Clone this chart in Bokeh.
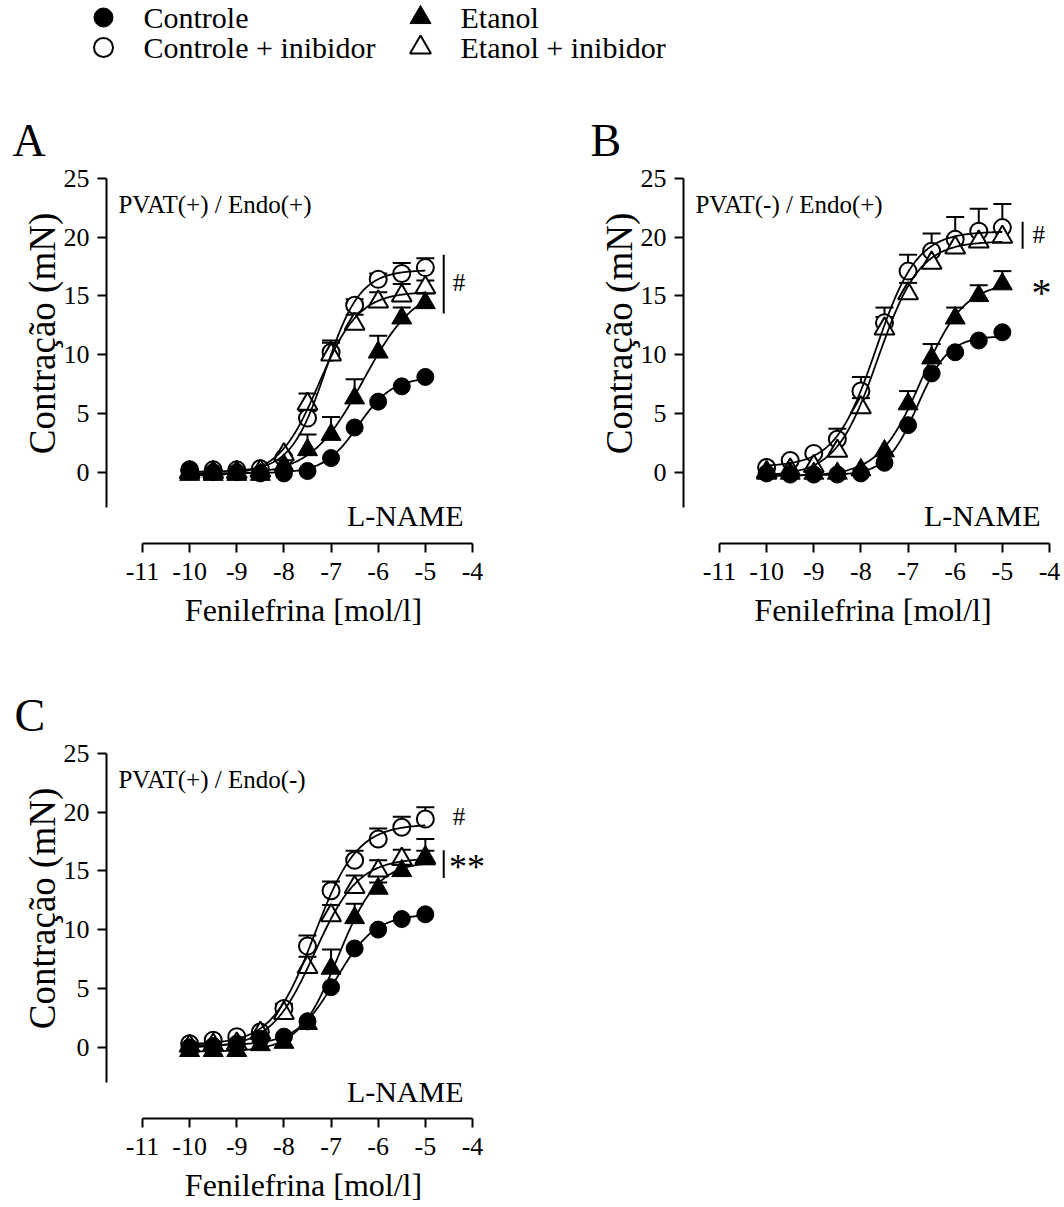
import numpy as np
from bokeh.plotting import figure
from bokeh.models import Range1d, FixedTicker, Whisker, TeeHead, ColumnDataSource
from bokeh.layouts import column, row
from bokeh.embed import file_html
from bokeh.resources import INLINE
from bokeh.core.properties import value

FONT = "'Liberation Serif'"

# Phenylephrine concentrations, log mol/l
log_phe = [-10, -9.5, -9, -8.5, -8, -7.5, -7, -6.5, -6, -5.5, -5]

# Panel A: PVAT(+) / Endo(+)
a_controle = [0.1, 0.0, 0.0, -0.1, -0.1, 0.1, 1.2, 3.8, 6.0, 7.3, 8.1]
a_controle_sem = [0, 0, 0, 0, 0, 0, 0, 0, 0, 0, 0]
a_etanol = [-0.2, -0.2, -0.2, -0.2, 0.6, 1.9, 3.2, 6.3, 10.2, 13.1, 14.4]
a_etanol_sem = [0, 0, 0, 0, 0, 1.3, 1.5, 1.6, 1.4, 0.9, 0.8]
a_controle_inib = [0.2, 0.2, 0.2, 0.3, 1.2, 4.6, 10.2, 14.2, 16.4, 16.9, 17.4]
a_controle_inib_sem = [0, 0, 0, 0, 0, 0.6, 1.0, 0.5, 0.5, 0.9, 0.8]
a_etanol_inib = [0.0, 0.0, 0.0, 0.1, 1.5, 5.8, 10.0, 12.6, 14.5, 15.0, 15.7]
a_etanol_inib_sem = [0, 0, 0, 0, 0, 0.9, 1.0, 0.8, 0.8, 1.0, 0.6]

# Panel B: PVAT(-) / Endo(+)
b_controle = [-0.1, -0.2, -0.2, -0.2, -0.1, 0.8, 4.0, 8.4, 10.2, 11.2, 11.9]
b_controle_sem = [0, 0, 0, 0, 0, 0, 0, 0, 0, 0, 0]
b_etanol = [-0.1, -0.1, -0.1, -0.1, 0.2, 1.8, 5.8, 9.7, 13.1, 15.0, 16.0]
b_etanol_sem = [0, 0, 0, 0, 0, 0, 1.1, 1.2, 0.9, 0.9, 1.1]
b_controle_inib = [0.4, 1.0, 1.6, 2.8, 6.9, 12.7, 17.1, 18.8, 19.8, 20.5, 20.8]
b_controle_inib_sem = [0, 0, 0, 0.9, 1.2, 1.3, 1.4, 1.5, 1.9, 1.9, 2.0]
b_etanol_inib = [0.0, 0.2, 0.5, 1.8, 5.5, 12.2, 15.2, 17.8, 19.1, 19.6, 20.0]
b_etanol_inib_sem = [0, 0, 0, 0, 0.8, 1.0, 0.9, 0.9, 0.9, 0.9, 0.8]

# Panel C: PVAT(+) / Endo(-)
c_controle = [0.0, 0.1, 0.3, 0.7, 0.9, 2.2, 5.1, 8.4, 10.0, 10.9, 11.3]
c_controle_sem = [0, 0, 0, 0, 0, 0, 0, 0, 0, 0, 0]
c_etanol = [-0.3, -0.3, -0.3, 0.2, 0.4, 2.0, 6.7, 11.0, 13.5, 15.0, 16.0]
c_etanol_sem = [0, 0, 0, 0, 0, 0, 1.6, 1.2, 0.5, 0.5, 1.7]
c_controle_inib = [0.3, 0.6, 0.9, 1.3, 3.3, 8.6, 13.3, 15.9, 17.7, 18.7, 19.4]
c_controle_inib_sem = [0, 0, 0, 0, 0.4, 0.9, 0.8, 0.8, 0.9, 0.9, 1.0]
c_etanol_inib = [0.1, 0.2, 0.3, 1.2, 2.9, 6.8, 11.2, 13.6, 15.0, 16.0, 16.1]
c_etanol_inib_sem = [0, 0, 0, 0, 0, 0.9, 0.9, 1.0, 0.9, 0.8, 0.6]

group_names = ["Controle", "Controle + inibidor", "Etanol", "Etanol + inibidor"]
x_ticks = [-11, -10, -9, -8, -7, -6, -5, -4]
y_ticks = [0, 5, 10, 15, 20, 25]

# marker style per group: (marker, fill)
STYLE = {
    "Controle": ("circle", "black"),
    "Controle + inibidor": ("circle", "white"),
    "Etanol": ("triangle", "black"),
    "Etanol + inibidor": ("triangle", "white"),
}
DRAW_ORDER = ["Controle + inibidor", "Etanol + inibidor", "Controle", "Etanol"]

PX_PER_X = 47.14   # pixels per log unit
PX_PER_Y = 11.76   # pixels per mN
AXIS_GAP = 36      # offset between the frame edge and the axis bounds
NBSP = "\u00a0"


def fit_sigmoid(x, y):
    """Least-squares four-parameter logistic fit (grid over logEC50 and slope)."""
    x = np.asarray(x, float)
    y = np.asarray(y, float)
    c = np.arange(-9.5, -4.0, 0.01)[:, None, None]
    h = np.arange(0.4, 3.01, 0.02)[None, :, None]
    s = 1.0 / (1.0 + 10.0 ** ((c - x[None, None, :]) * h))
    u = 1.0 - s
    suu = (u * u).sum(-1)
    sss = (s * s).sum(-1)
    sus = (u * s).sum(-1)
    suy = (u * y).sum(-1)
    ssy = (s * y).sum(-1)
    det = suu * sss - sus ** 2
    bottom = (sss * suy - sus * ssy) / det
    top = (suu * ssy - sus * suy) / det
    pred = bottom[..., None] * u + top[..., None] * s
    sse = ((pred - y) ** 2).sum(-1)
    i, j = np.unravel_index(np.nanargmin(sse), sse.shape)
    return bottom[i, j], top[i, j], c[i, 0, 0], h[0, j, 0]


def sigmoid(xs, bottom, top, logec50, hill):
    return bottom + (top - bottom) / (1.0 + 10.0 ** ((logec50 - xs) * hill))


def make_panel(letter, letter_left, condition, groups, width, height, left, right, top, bottom,
               bar, hash_pos, star_pos, stars, star_size, lname_y):
    x0 = -11 - AXIS_GAP / PX_PER_X
    x1 = x0 + (width - left - right) / PX_PER_X
    y0 = -3 - AXIS_GAP / PX_PER_Y
    y1 = y0 + (height - top - bottom) / PX_PER_Y
    p = figure(width=width, height=height, x_range=Range1d(x0, x1), y_range=Range1d(y0, y1),
               min_border_left=left, min_border_right=right, min_border_top=top,
               min_border_bottom=bottom, output_backend="svg", toolbar_location=None,
               title=letter)
    p.outline_line_color = None
    p.xgrid.visible = False
    p.ygrid.visible = False
    p.background_fill_color = "white"
    p.border_fill_color = "white"

    p.title.text_font = FONT
    p.title.text_font_size = "46px"
    p.title.text_font_style = "normal"
    p.title.text_color = "black"
    p.title.align = "left"
    p.title.offset = letter_left - left
    p.title.standoff = -11

    for ax in (p.xaxis[0], p.yaxis[0]):
        ax.axis_line_width = 2
        ax.axis_line_color = "black"
        ax.major_tick_line_width = 2
        ax.major_tick_line_color = "black"
        ax.major_tick_out = 9
        ax.major_tick_in = 0
        ax.minor_tick_line_color = None
        ax.major_label_text_font = FONT
        ax.major_label_text_font_size = "26px"
        ax.major_label_text_color = "black"
        ax.axis_label_text_font = FONT
        ax.axis_label_text_font_style = "normal"
        ax.axis_label_text_color = "black"

    xa = p.xaxis[0]
    xa.bounds = (-11, -4)
    xa.ticker = FixedTicker(ticks=x_ticks)
    xa.major_label_overrides = {t: str(t) for t in x_ticks}
    xa.major_label_standoff = 10
    xa.axis_label = "Fenilefrina [mol/l]"
    xa.axis_label_text_font_size = "32px"
    xa.axis_label_standoff = 9

    ya = p.yaxis[0]
    ya.bounds = (-3, 25)
    ya.ticker = FixedTicker(ticks=y_ticks)
    ya.major_label_standoff = 8
    # leading no-break spaces lift the title so it sits centred on the 0-25 span
    ya.axis_label = NBSP * 4 + "Contração (mN)"
    ya.axis_label_text_font_size = "37px"
    ya.axis_label_standoff = -2

    xs = np.linspace(log_phe[0], log_phe[-1], 241)

    # upward SEM bars, beneath the symbols
    for name in DRAW_ORDER:
        y, sem = groups[name]
        keep = [i for i, e in enumerate(sem) if e > 0]
        src = ColumnDataSource(dict(
            x=[log_phe[i] for i in keep],
            lower=[y[i] for i in keep],
            upper=[y[i] + sem[i] for i in keep],
        ))
        w = Whisker(source=src, base="x", lower="lower", upper="upper", dimension="height",
                    lower_head=None,
                    upper_head=TeeHead(size=18, line_width=2, line_color="black"),
                    line_width=2, line_color="black", level="underlay")
        p.add_layout(w)

    for name in DRAW_ORDER:
        y, sem = groups[name]
        marker, fill = STYLE[name]
        size = 17 if marker == "circle" else 20
        p.scatter(log_phe, y, marker=marker, size=size, fill_color=fill,
                  line_color="black", line_width=2 if fill == "white" else 1)

    # fitted concentration-response curves
    for name in DRAW_ORDER:
        y, sem = groups[name]
        params = fit_sigmoid(log_phe, y)
        p.line(xs, sigmoid(xs, *params), line_color="black", line_width=1.8)

    p.text(x=[-11.51], y=[22.8], text=[condition], text_font=value(FONT),
           text_font_size="25px", text_baseline="alphabetic", text_align="left",
           text_color="black")
    p.text(x=[-4.19], y=[lname_y], text=["L-NAME"], text_font=value(FONT),
           text_font_size="30px", text_baseline="alphabetic", text_align="right",
           text_color="black")

    bx, by0, by1 = bar
    p.segment(x0=[bx], y0=[by0], x1=[bx], y1=[by1], line_color="black", line_width=2)
    p.text(x=[hash_pos[0]], y=[hash_pos[1]], text=["#"], text_font=value(FONT),
           text_font_size="25px", text_baseline="alphabetic", text_align="left",
           text_color="black")
    if stars:
        p.text(x=[star_pos[0]], y=[star_pos[1]], text=[stars], text_font=value(FONT),
               text_font_size=star_size, text_baseline="alphabetic", text_align="left",
               text_color="black")
    return p


groups_a = {
    "Controle": (a_controle, a_controle_sem),
    "Controle + inibidor": (a_controle_inib, a_controle_inib_sem),
    "Etanol": (a_etanol, a_etanol_sem),
    "Etanol + inibidor": (a_etanol_inib, a_etanol_inib_sem),
}
groups_b = {
    "Controle": (b_controle, b_controle_sem),
    "Controle + inibidor": (b_controle_inib, b_controle_inib_sem),
    "Etanol": (b_etanol, b_etanol_sem),
    "Etanol + inibidor": (b_etanol_inib, b_etanol_inib_sem),
}
groups_c = {
    "Controle": (c_controle, c_controle_sem),
    "Controle + inibidor": (c_controle_inib, c_controle_inib_sem),
    "Etanol": (c_etanol, c_etanol_sem),
    "Etanol + inibidor": (c_etanol_inib, c_etanol_inib_sem),
}

pa = make_panel("A", 12, "PVAT(+) / Endo(+)", groups_a, 532, 580, 106, 32, 80, 117,
                bar=(-4.61, 13.5, 18.5), hash_pos=(-4.42, 16.1), star_pos=None,
                stars="", star_size="40px", lname_y=-3.7)
pb = make_panel("B", 58, "PVAT(-) / Endo(+)", groups_b, 532, 580, 151, 2, 80, 117,
                bar=(-4.57, 19.0, 21.3), hash_pos=(-4.36, 20.2), star_pos=(-4.38, 15.3),
                stars="*", star_size="40px", lname_y=-3.7)
pc = make_panel("C", 14, "PVAT(+) / Endo(-)", groups_c, 532, 547, 106, 32, 75, 89,
                bar=(-4.61, 14.4, 16.75), hash_pos=(-4.42, 19.6), star_pos=(-4.50, 15.3),
                stars="**", star_size="36px", lname_y=-3.75)

# key above the panels, laid out in pixel coordinates
key = figure(width=1064, height=80, x_range=Range1d(0, 1064), y_range=Range1d(80, 0),
             min_border=0, output_backend="svg", toolbar_location=None,
             x_axis_location=None, y_axis_location=None)
key.outline_line_color = None
key.xgrid.visible = False
key.ygrid.visible = False
key_x = [103, 103, 420, 420]
key_y = [17, 47, 17, 47]
for name, kx, ky in zip(group_names, key_x, key_y):
    marker, fill = STYLE[name]
    key.scatter([kx], [ky], marker=marker, size=19 if marker == "circle" else 21,
                fill_color=fill, line_color="black", line_width=2 if fill == "white" else 1)
    key.text(x=[kx + 40], y=[ky], text=[name], text_font=value(FONT), text_font_size="30px",
             text_baseline="middle", text_align="left", text_color="black")

layout = column(row(key), row(pa, pb), row(pc))
open("out.html", "w").write(file_html(layout, INLINE))
